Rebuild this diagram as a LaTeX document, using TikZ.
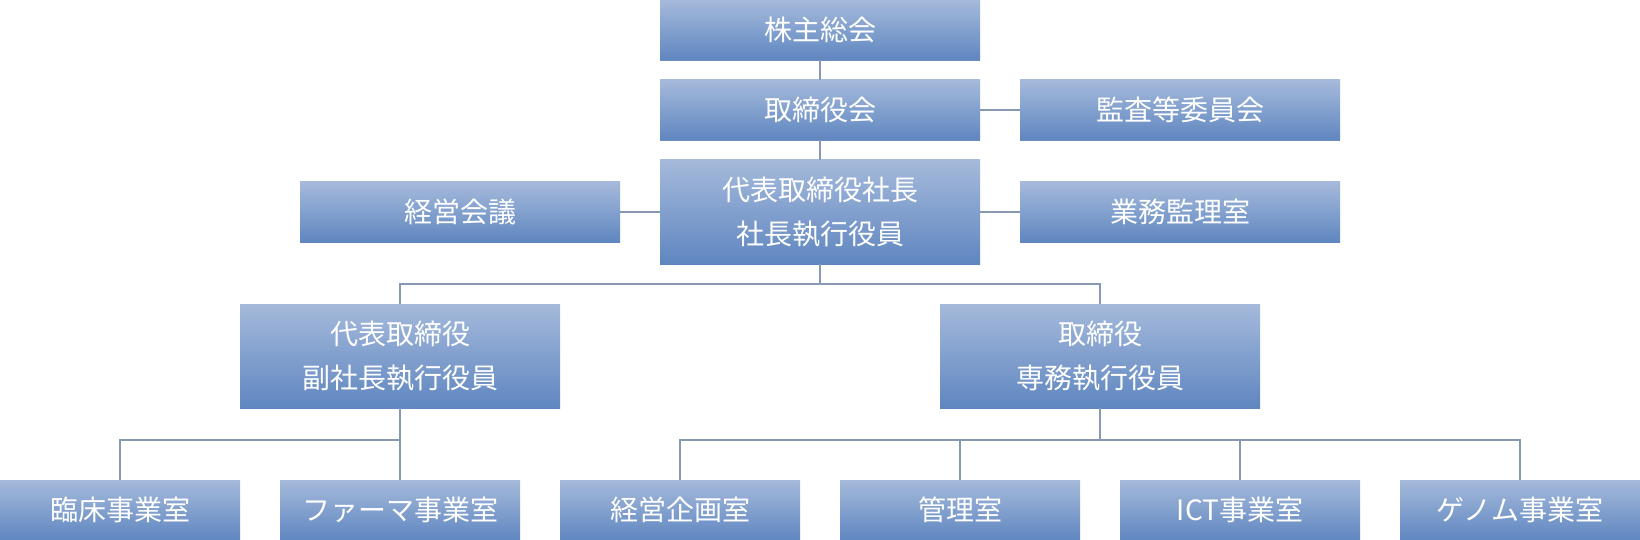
\documentclass[tikz,border=0pt]{standalone}
\usepackage{fontspec}
\newfontfamily\jp{Noto Sans CJK JP}
\definecolor{boxtop}{HTML}{A5BADB}
\definecolor{boxbot}{HTML}{5F86C0}
\definecolor{linec}{HTML}{8798B2}
\definecolor{edgec}{HTML}{6F8DC0}
\begin{document}
\begin{tikzpicture}[x=1pt,y=-1pt,
  box/.style={rectangle, top color=boxtop, bottom color=boxbot, draw=none,
    text=white, font=\jp\fontsize{28}{44}\selectfont, align=center,
    inner sep=0pt, minimum width=320pt, minimum height=60pt,
    append after command={\pgfextra{\draw[edgec, line width=1.5pt]
      (\tikzlastnode.south west) -- (\tikzlastnode.south east);}}},
  tallbox/.style={box, minimum height=104pt},
  smallbox/.style={box, minimum width=240pt},
  conn/.style={draw=linec, line width=2pt}]
\useasboundingbox (0,0) rectangle (1640,540);
\fill[white] (0,0) rectangle (1640,540);
\node[box] (kabu) at (820,30) {株主総会};
\node[box] (tori) at (820,110) {取締役会};
\node[box] (kansa) at (1180,110) {監査等委員会};
\node[tallbox] (shacho) at (820,212) {代表取締役社長\\社長執行役員};
\node[box] (keiei) at (460,212) {経営会議};
\node[box] (gyomu) at (1180,212) {業務監理室};
\node[tallbox] (fuku) at (400,356) {代表取締役\\副社長執行役員};
\node[tallbox] (senmu) at (1100,356) {取締役\\専務執行役員};
\node[smallbox] (rinsho) at (120,510) {臨床事業室};
\node[smallbox] (pharma) at (400,510) {ファーマ事業室};
\node[smallbox] (kikaku) at (680,510) {経営企画室};
\node[smallbox] (kanri) at (960,510) {管理室};
\node[smallbox] (ict) at (1240,510) {ICT事業室};
\node[smallbox] (genome) at (1520,510) {ゲノム事業室};
\coordinate (j1) at (820,284);
\coordinate (j2) at (400,440);
\coordinate (j3) at (1100,440);
\draw[conn] (kabu.south) -- (tori.north);
\draw[conn] (tori.south) -- (shacho.north);
\draw[conn] (tori.east) -- (kansa.west);
\draw[conn] (keiei.east) -- (shacho.west);
\draw[conn] (shacho.east) -- (gyomu.west);
\draw[conn] (shacho.south) -- (j1);
\draw[conn] (j1) -| (fuku.north);
\draw[conn] (j1) -| (senmu.north);
\draw[conn] (fuku.south) -- (j2);
\draw[conn] (j2) -| (rinsho.north);
\draw[conn] (j2) -- (pharma.north);
\draw[conn] (senmu.south) -- (j3);
\draw[conn] (j3) -| (kikaku.north);
\draw[conn] (j3) -| (kanri.north);
\draw[conn] (j3) -| (ict.north);
\draw[conn] (j3) -| (genome.north);
\end{tikzpicture}
\end{document}
